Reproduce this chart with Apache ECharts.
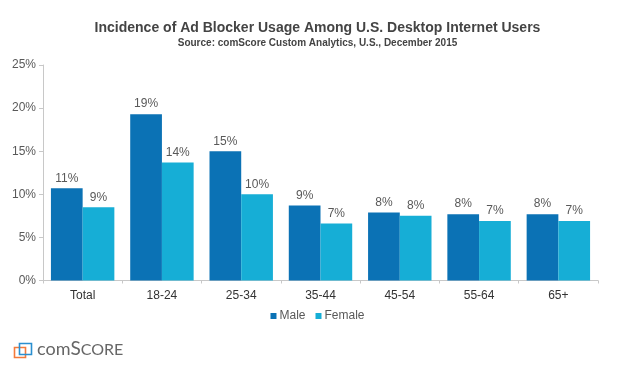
<!DOCTYPE html>
<html>
<head>
<meta charset="utf-8">
<script src="https://cdn.jsdelivr.net/npm/echarts@6/dist/echarts.min.js"></script>
<style>html,body{margin:0;padding:0;background:#fff}#c{width:635px;height:366px}</style>
</head>
<body>
<div id="c"></div>
<script>
const categories = ['Total', '18-24', '25-34', '35-44', '45-54', '55-64', '65+'];
const maleValues = [10.7, 19.3, 15.0, 8.7, 7.9, 7.7, 7.7];
const femaleValues = [8.5, 13.7, 10.0, 6.6, 7.5, 6.9, 6.9];
const maleLabels = ['11%', '19%', '15%', '9%', '8%', '8%', '8%'];
const femaleLabels = ['9%', '14%', '10%', '7%', '8%', '7%', '7%'];
const yTicks = [0, 5, 10, 15, 20, 25];

const chart = echarts.init(document.getElementById('c'));
const txt = '#595959';
const font = 'Liberation Sans, Arial, sans-serif';
chart.setOption({
  animation: false,
  textStyle: { fontFamily: font },
  title: [{
    text: 'Incidence of Ad Blocker Usage Among U.S. Desktop Internet Users',
    left: 'center', top: 16,
    textStyle: { fontSize: 14, fontWeight: 'bold', color: '#444', fontFamily: font }
  }, {
    text: 'Source: comScore Custom Analytics, U.S., December 2015',
    left: 'center', top: 33,
    textStyle: { fontSize: 10, fontWeight: 'bold', color: '#444', fontFamily: font }
  }],
  legend: {
    data: ['Male', 'Female'],
    bottom: 39, left: 'center',
    itemWidth: 6, itemHeight: 6, itemGap: 10,
    icon: 'rect',
    textStyle: { fontSize: 12, color: txt, padding: [0, 0, 0, -2] }
  },
  grid: { left: 43, right: 37, top: 65, bottom: 85.5, containLabel: false },
  xAxis: {
    type: 'category', data: categories,
    axisLine: { lineStyle: { color: '#c8c8c8' } },
    axisTick: { show: true, length: 3, lineStyle: { color: '#c8c8c8' } },
    axisLabel: { fontSize: 12, color: '#333', margin: 9 }
  },
  yAxis: {
    type: 'value', min: 0, max: 25, interval: 5,
    axisLine: { show: true, lineStyle: { color: '#c8c8c8' } },
    axisTick: { show: true, length: 4, lineStyle: { color: '#c8c8c8' } },
    splitLine: { show: false },
    axisLabel: { fontSize: 12, color: txt, margin: 7, formatter: v => yTicks.includes(v) ? v + '%' : '' }
  },
  series: [{
    name: 'Male', type: 'bar', data: maleValues,
    barGap: '0%', barCategoryGap: '20%',
    itemStyle: { color: '#0b72b5' },
    label: { show: true, position: 'top', distance: 4, fontSize: 12, color: txt,
      formatter: p => maleLabels[p.dataIndex] }
  }, {
    name: 'Female', type: 'bar', data: femaleValues,
    itemStyle: { color: '#16aed6' },
    label: { show: true, position: 'top', distance: 4, fontSize: 12, color: txt,
      formatter: p => femaleLabels[p.dataIndex] }
  }],
  graphic: [
    { type: 'rect', left: 12, top: 345, shape: { width: 11, height: 10 }, style: { fill: 'none', stroke: '#f47b3c', lineWidth: 1.6 } },
    { type: 'rect', left: 17, top: 341, shape: { width: 12, height: 11 }, style: { fill: 'none', stroke: '#2a8fd0', lineWidth: 1.6 } },
    { type: 'text', left: 37, top: 339, style: {
      text: '{a|com}{b|S}{c|CORE}',
      rich: {
        a: { fontSize: 18, fill: '#666', fontFamily: 'Lato, Open Sans, sans-serif', verticalAlign: 'bottom', lineHeight: 20 },
        b: { fontSize: 19, fill: '#666', fontFamily: 'Lato, Open Sans, sans-serif', verticalAlign: 'bottom', lineHeight: 20 },
        c: { fontSize: 16, fill: '#666', fontFamily: 'Lato, Open Sans, sans-serif', verticalAlign: 'bottom', lineHeight: 20 }
      }
    } }
  ]
});
</script>
</body>
</html>
